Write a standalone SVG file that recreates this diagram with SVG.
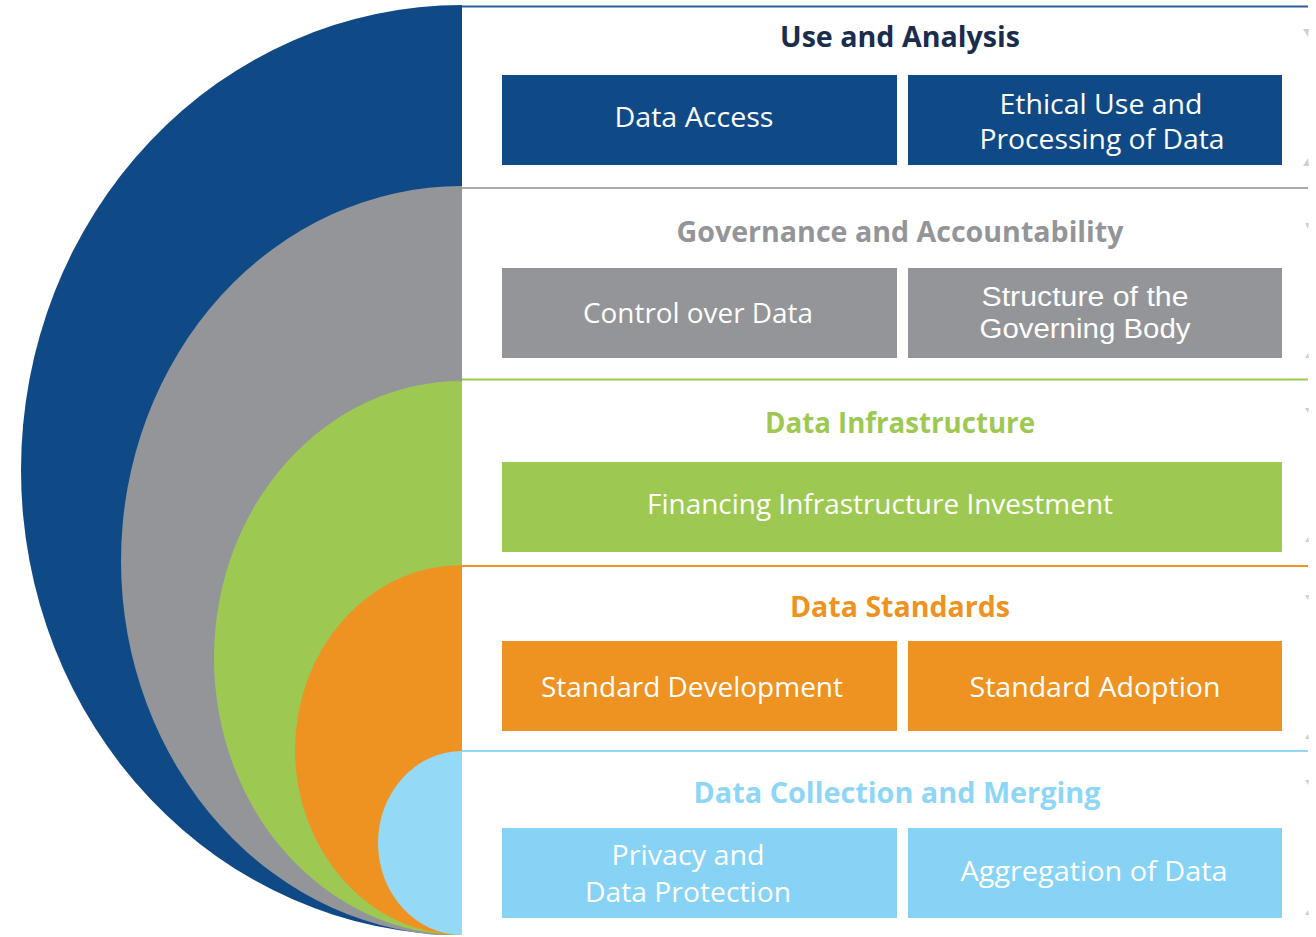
<svg xmlns="http://www.w3.org/2000/svg" width="1316" height="937" viewBox="0 0 1316 937">
<defs>
<style>
.title{font-family:"Open Sans","Liberation Sans",sans-serif;font-weight:700;font-size:28px;text-anchor:middle}
.lbl{font-family:"Open Sans","Liberation Sans",sans-serif;font-size:28px;fill:#ffffff;text-anchor:middle}
.lbl2{font-family:"Liberation Sans","Open Sans",sans-serif;font-size:27px;fill:#ffffff;text-anchor:middle}
.sep{stroke-width:2;fill:none}
.mark{fill:#cfcfcf}
</style>
<clipPath id="page"><rect x="0" y="0" width="462" height="935"/></clipPath>
</defs>
<rect width="1316" height="937" fill="#ffffff"/>
<g id="arcs" clip-path="url(#page)">
<path id="arc-use" d="M462 5 A441 465 0 0 0 462 935 Z" fill="#0f4a87"/>
<path id="arc-gov" d="M462 186 A341 375 0 0 0 462 936 Z" fill="#939598"/>
<path id="arc-infra" d="M462 381 A248 277 0 0 0 462 935 Z" fill="#9dc952"/>
<path id="arc-std" d="M462 565 A167 185 0 0 0 462 935 Z" fill="#ee9322"/>
<path id="arc-coll" d="M462 751 A84 92 0 0 0 462 935 Z" fill="#94d9f5"/>
</g>
<g id="connectors">
<line class="sep" x1="462" y1="6.5" x2="1308" y2="6.5" stroke="#2d5f99"/>
<line class="sep" x1="462" y1="188" x2="1308" y2="188" stroke="#a7a9ac"/>
<line class="sep" x1="462" y1="379.5" x2="1308" y2="379.5" stroke="#9dc952"/>
<line class="sep" x1="462" y1="566" x2="1308" y2="566" stroke="#ee9322"/>
<line class="sep" x1="462" y1="751" x2="1308" y2="751" stroke="#94d9f5"/>
</g>
<g id="marks">
<path class="mark" d="M1303 29 L1309 29 L1308 37 Z"/>
<path class="mark" d="M1308 158 L1309 166 L1303 166 Z"/>
<path class="mark" d="M1305 223 L1309 223 L1308 229 Z"/>
<path class="mark" d="M1308 353 L1309 358 L1305 358 Z"/>
<path class="mark" d="M1305 408 L1309 408 L1308 413 Z"/>
<path class="mark" d="M1308 537 L1309 542 L1305 542 Z"/>
<path class="mark" d="M1305 595 L1309 595 L1308 600 Z"/>
<path class="mark" d="M1308 734 L1309 739 L1305 739 Z"/>
<path class="mark" d="M1305 780 L1309 780 L1308 785 Z"/>
<path class="mark" d="M1308 910 L1309 915 L1305 915 Z"/>
</g>
<g id="use-and-analysis">
<text class="title" x="900" y="47" fill="#1b2d4d" textLength="240" lengthAdjust="spacingAndGlyphs">Use and Analysis</text>
</g>
<g id="data-access">
<rect x="502" y="75" width="395" height="90" fill="#0f4a87"/>
<text class="lbl" x="694" y="127" textLength="159" lengthAdjust="spacingAndGlyphs">Data Access</text>
</g>
<g id="ethical-use">
<rect x="908" y="75" width="374" height="90" fill="#0f4a87"/>
<text class="lbl" x="1101" y="114" textLength="203" lengthAdjust="spacingAndGlyphs">Ethical Use and</text>
<text class="lbl" x="1102" y="149" textLength="245" lengthAdjust="spacingAndGlyphs">Processing of Data</text>
</g>
<g id="governance">
<text class="title" x="900" y="242" fill="#939598" textLength="447" lengthAdjust="spacingAndGlyphs">Governance and Accountability</text>
</g>
<g id="control-over-data">
<rect x="502" y="268" width="395" height="90" fill="#939598"/>
<text class="lbl" x="698" y="323" textLength="230" lengthAdjust="spacingAndGlyphs">Control over Data</text>
</g>
<g id="structure-governing-body">
<rect x="908" y="268" width="374" height="90" fill="#939598"/>
<text class="lbl2" x="1085" y="306" textLength="207" lengthAdjust="spacingAndGlyphs">Structure of the</text>
<text class="lbl2" x="1085" y="338" textLength="211" lengthAdjust="spacingAndGlyphs">Governing Body</text>
</g>
<g id="data-infrastructure">
<text class="title" x="900" y="433" fill="#9dc952" textLength="270" lengthAdjust="spacingAndGlyphs">Data Infrastructure</text>
</g>
<g id="financing">
<rect x="502" y="462" width="780" height="90" fill="#9dc952"/>
<text class="lbl" x="880" y="514" textLength="466" lengthAdjust="spacingAndGlyphs">Financing Infrastructure Investment</text>
</g>
<g id="data-standards">
<text class="title" x="900" y="617" fill="#ee9322" textLength="220" lengthAdjust="spacingAndGlyphs">Data Standards</text>
</g>
<g id="standard-development">
<rect x="502" y="641" width="395" height="90" fill="#ee9322"/>
<text class="lbl" x="692" y="697" textLength="302" lengthAdjust="spacingAndGlyphs">Standard Development</text>
</g>
<g id="standard-adoption">
<rect x="908" y="641" width="374" height="90" fill="#ee9322"/>
<text class="lbl" x="1095" y="697" textLength="251" lengthAdjust="spacingAndGlyphs">Standard Adoption</text>
</g>
<g id="data-collection">
<text class="title" x="897" y="803" fill="#8ed6f6" textLength="407" lengthAdjust="spacingAndGlyphs">Data Collection and Merging</text>
</g>
<g id="privacy">
<rect x="502" y="828" width="395" height="90" fill="#87d3f5"/>
<text class="lbl" x="688" y="865" textLength="153" lengthAdjust="spacingAndGlyphs">Privacy and</text>
<text class="lbl" x="688" y="902" textLength="206" lengthAdjust="spacingAndGlyphs">Data Protection</text>
</g>
<g id="aggregation">
<rect x="908" y="828" width="374" height="90" fill="#87d3f5"/>
<text class="lbl" x="1094" y="881" textLength="267" lengthAdjust="spacingAndGlyphs">Aggregation of Data</text>
</g>
</svg>
